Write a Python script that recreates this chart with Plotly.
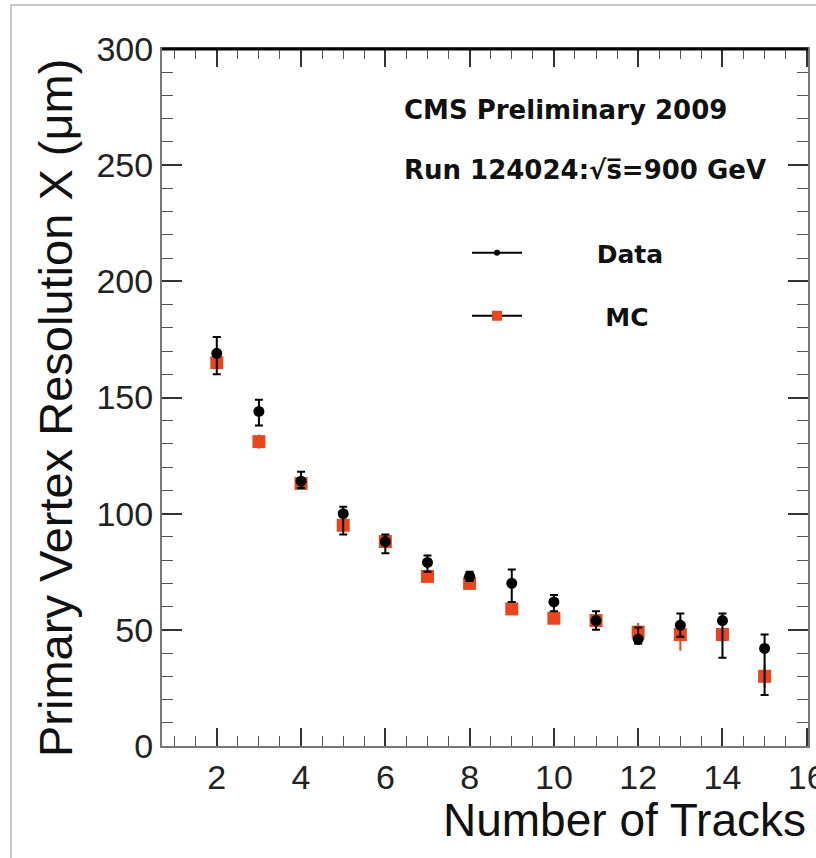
import plotly.graph_objects as go

# ---- data ----
tracks = [2, 3, 4, 5, 6, 7, 8, 9, 10, 11, 12, 13, 14, 15]
data_res = [169, 144, 114, 100, 88, 79, 73, 70, 62, 54, 46, 52, 54, 42]
data_err_up = [7, 5, 4, 3, 3, 3, 2, 6, 3, 4, 5, 5, 3, 6]
data_err_dn = [9, 6, 3, 9, 5, 4, 2, 8, 4, 4, 2, 5, 16, 20]
mc_res = [165, 131, 113, 95, 88, 73, 70, 59, 55, 54, 49, 48, 48, 30]
mc_err = [3, 3, 2, 3, 2, 2, 2, 2, 2, 2, 4, 7, 3, 5]

x_ticks = [2, 4, 6, 8, 10, 12, 14, 16]
y_ticks = [0, 50, 100, 150, 200, 250, 300]

ORANGE = "#E8461E"
W, H = 816, 858
L, R, T, B = 162, 8, 49, 112
PW = W - L - R
PH = H - T - B


def px_x(px):
    return (px - L) / PW


def px_y(py):
    return (H - B - py) / PH


fig = go.Figure()

fig.add_trace(go.Scatter(
    x=tracks, y=mc_res, mode="markers", showlegend=False,
    marker=dict(symbol="square", size=13, color=ORANGE),
    error_y=dict(type="data", array=mc_err, color=ORANGE, thickness=2, width=0),
))
fig.add_trace(go.Scatter(
    x=tracks, y=data_res, mode="markers", showlegend=False,
    marker=dict(symbol="circle", size=11, color="black"),
    error_y=dict(type="data", symmetric=False, array=data_err_up,
                 arrayminus=data_err_dn, color="black", thickness=2, width=4),
))

NB = "\u00a0"
# legend entries
fig.add_trace(go.Scatter(
    x=[None], y=[None], mode="lines+markers", name=NB * 8 + "Data", legend="legend",
    line=dict(color="black", width=2),
    marker=dict(symbol="circle", size=6, color="black"),
))
fig.add_trace(go.Scatter(
    x=[None], y=[None], mode="lines+markers", name=NB * 9 + "MC", legend="legend2",
    line=dict(color="black", width=2),
    marker=dict(symbol="square", size=10, color=ORANGE),
))

axis_common = dict(
    showgrid=False, zeroline=False, showline=True, linecolor="#777",
    linewidth=2, mirror="ticks", ticks="inside", tickcolor="#333",
    tickwidth=2, ticklabeloverflow="allow", automargin=False,
    tickfont=dict(family="Liberation Sans, Arial", size=34, color="#222"),
)

leg_font = dict(family="DejaVu Sans", size=25, color="#111", weight="bold")
fig.update_layout(
    width=W, height=H,
    margin=dict(l=L, r=R, t=T, b=B, autoexpand=False),
    paper_bgcolor="white", plot_bgcolor="white",
    xaxis=dict(range=[0.7, 16.03], tickvals=x_ticks, ticklen=18,
               minor=dict(dtick=0.5, tick0=0, ticklen=10, ticks="inside",
                          tickcolor="#555", tickwidth=1),
               **axis_common),
    yaxis=dict(range=[0, 300], tickvals=y_ticks, ticklen=20,
               minor=dict(dtick=10, tick0=0, ticklen=11, ticks="inside",
                          tickcolor="#555", tickwidth=1),
               **axis_common),
    legend=dict(x=px_x(467), y=px_y(253), xanchor="left", yanchor="middle",
                bgcolor="rgba(0,0,0,0)", itemwidth=50, font=leg_font),
    legend2=dict(x=px_x(467), y=px_y(316), xanchor="left", yanchor="middle",
                 bgcolor="rgba(0,0,0,0)", itemwidth=50, font=leg_font),
    showlegend=True,
)

annot_font = dict(family="DejaVu Sans", size=26, color="#111", weight="bold")
fig.add_annotation(text="CMS Preliminary 2009", xref="paper", yref="paper",
                   x=px_x(402), y=px_y(110), xanchor="left", yanchor="middle",
                   showarrow=False, font=annot_font)
fig.add_annotation(text="Run 124024:√s̅=900 GeV", xref="paper", yref="paper",
                   x=px_x(402), y=px_y(170), xanchor="left", yanchor="middle",
                   showarrow=False, font=annot_font)

title_font = dict(family="Liberation Sans, Arial", size=46, color="#111")
fig.add_annotation(text="Number of Tracks", xref="paper", yref="paper",
                   x=1.0, y=px_y(820), xanchor="right", yanchor="middle",
                   showarrow=False, font=title_font)
fig.add_annotation(text="Primary Vertex Resolution X (μm)",
                   xref="paper", yref="paper",
                   x=px_x(55), y=px_y(57), xanchor="center", yanchor="top",
                   textangle=-90, showarrow=False,
                   font=dict(family="Liberation Sans, Arial", size=47, color="#111"))

# top frame line (thick, black) and outer grey border
fig.add_shape(type="line", xref="paper", yref="paper", x0=0, x1=1, y0=1, y1=1,
              line=dict(color="black", width=3))
fig.add_shape(type="rect", xref="paper", yref="paper",
              x0=px_x(11), x1=px_x(840), y0=px_y(5), y1=px_y(880),
              line=dict(color="#c8c8c8", width=2), layer="below")

fig.write_html("out.html")
